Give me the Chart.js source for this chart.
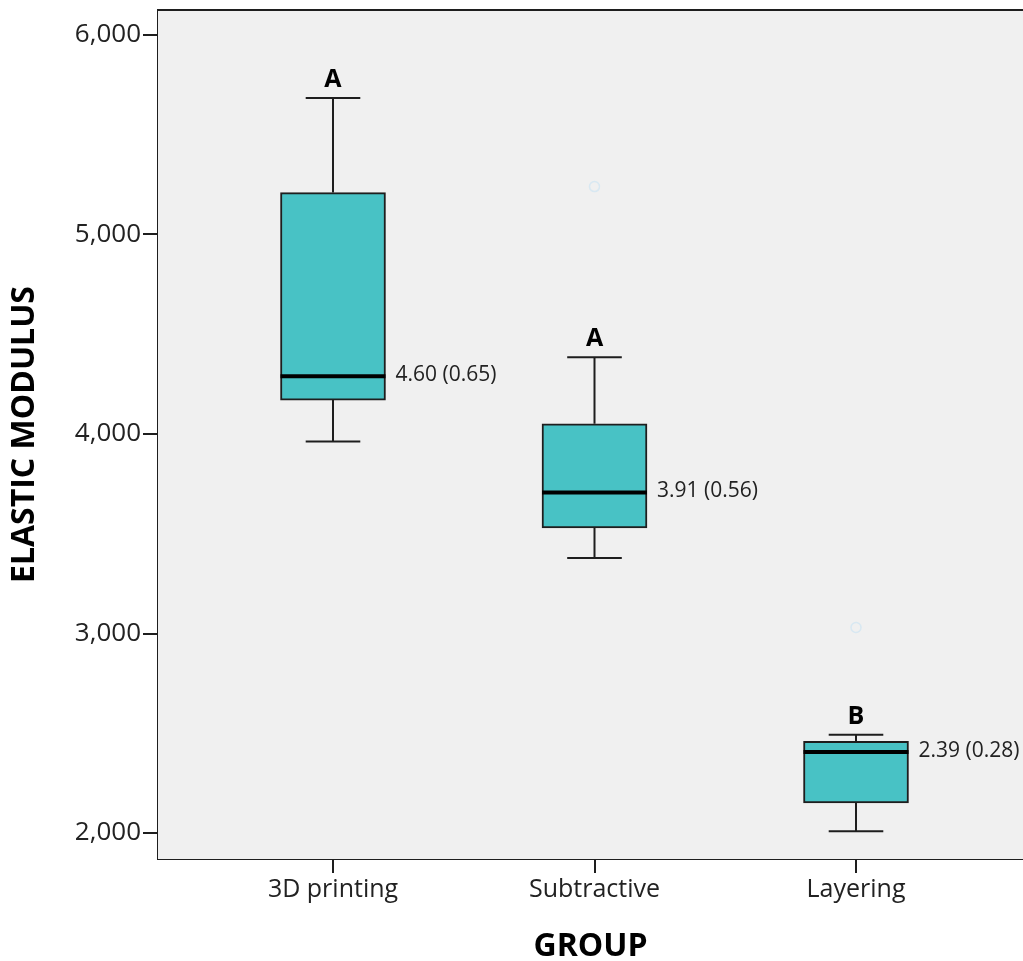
<!DOCTYPE html>
<html>
<head>
<meta charset="utf-8">
<script src="https://cdn.jsdelivr.net/npm/chart.js@4/dist/chart.umd.min.js"></script>
<style>
  html, body { margin: 0; padding: 0; background: #fff; }
  canvas { display: block; }
</style>
</head>
<body>
<canvas id="grafica" width="1023" height="961"></canvas>
<script>
// box plot values (elastic modulus)
const groups = ['3D printing', 'Subtractive', 'Layering'];
const whiskerLow = [3962, 3378, 2009];
const quart1 = [4170, 3529, 2151];
const medians = [4290, 3707, 2406];
const quart3 = [5210, 4051, 2460];
const whiskerHigh = [5684, 4385, 2493];
const letters = ['A', 'A', 'B'];
const meanSd = ['4.60 (0.65)', '3.91 (0.56)', '2.39 (0.28)'];
// faint outlier circles
const outlierGroup = [2, 3];
const outlierValue = [5240, 3030];
const yTicks = [2000, 3000, 4000, 5000, 6000];

const ink = '#1e1e1e';

const boxData = groups.map((g, i) => ({ x: i + 1, y: [quart1[i], quart3[i]] }));
const outData = outlierGroup.map((g, i) => ({ x: g, y: outlierValue[i] }));

// background + top border of plot
const plotFrame = {
  id: 'plotFrame',
  beforeDatasetsDraw(chart) {
    const { ctx, chartArea: a } = chart;
    ctx.save();
    ctx.fillStyle = '#f0f0f0';
    ctx.fillRect(a.left, a.top, a.right - a.left, a.bottom - a.top);
    ctx.restore();
  },
  afterDraw(chart) {
    const { ctx, chartArea: a } = chart;
    ctx.save();
    ctx.strokeStyle = ink;
    ctx.lineWidth = 2;
    ctx.beginPath();
    ctx.moveTo(a.left - 1, a.top);
    ctx.lineTo(a.right, a.top);
    ctx.stroke();
    ctx.restore();
  }
};

// whiskers, medians and labels
const boxExtras = {
  id: 'boxExtras',
  afterDatasetsDraw(chart) {
    const { ctx } = chart;
    const xs = chart.scales.x, ys = chart.scales.y;
    const meta = chart.getDatasetMeta(0);
    ctx.save();
    groups.forEach((g, i) => {
      const bar = meta.data[i];
      const half = bar.width / 2;
      const cx = xs.getPixelForValue(i + 1);
      const yLo = ys.getPixelForValue(whiskerLow[i]);
      const yQ1 = ys.getPixelForValue(quart1[i]);
      const yMed = ys.getPixelForValue(medians[i]);
      const yQ3 = ys.getPixelForValue(quart3[i]);
      const yHi = ys.getPixelForValue(whiskerHigh[i]);
      const cap = half * 0.52;

      ctx.strokeStyle = ink;
      ctx.lineWidth = 2;
      ctx.beginPath();
      ctx.moveTo(cx, yQ3); ctx.lineTo(cx, yHi);
      ctx.moveTo(cx - cap, yHi); ctx.lineTo(cx + cap, yHi);
      ctx.moveTo(cx, yQ1); ctx.lineTo(cx, yLo);
      ctx.moveTo(cx - cap, yLo); ctx.lineTo(cx + cap, yLo);
      ctx.stroke();

      ctx.strokeStyle = '#000';
      ctx.lineWidth = 4;
      ctx.beginPath();
      ctx.moveTo(cx - half, yMed); ctx.lineTo(cx + half, yMed);
      ctx.stroke();

      ctx.fillStyle = '#000';
      ctx.font = 'bold 25px "Open Sans"';
      ctx.textAlign = 'center';
      ctx.textBaseline = 'alphabetic';
      ctx.fillText(letters[i], cx, yHi - 11);

      ctx.fillStyle = '#222';
      ctx.font = '21px "Open Sans"';
      ctx.textAlign = 'left';
      ctx.textBaseline = 'middle';
      ctx.fillText(meanSd[i], cx + half + 10, yMed - 1);
    });
    ctx.restore();
  }
};

const config = {
  data: {
    datasets: [{
      type: 'bar',
      label: 'box',
      data: boxData,
      backgroundColor: '#48c2c5',
      borderColor: ink,
      borderWidth: 2,
      borderSkipped: false,
      barThickness: 105
    }, {
      type: 'scatter',
      label: 'outliers',
      data: outData,
      pointRadius: 5,
      pointBorderWidth: 1.5,
      borderColor: 'rgba(205,228,242,0.7)',
      backgroundColor: 'rgba(0,0,0,0)'
    }]
  },
  options: {
    responsive: false,
    animation: false,
    layout: { autoPadding: false, padding: { top: 10, right: 0, left: 0, bottom: 0 } },
    plugins: {
      legend: { display: false },
      tooltip: { enabled: false }
    },
    scales: {
      x: {
        type: 'linear',
        offset: false,
        min: 0.3308,
        max: 3.6386,
        afterBuildTicks: s => { s.ticks = groups.map((g, i) => ({ value: i + 1 })); },
        afterFit: s => { s.height = 102; s.paddingLeft = 0; s.paddingRight = 0; },
        ticks: {
          autoSkip: false,
          maxRotation: 0,
          padding: 2,
          color: '#222',
          font: { family: 'Open Sans', size: 25 },
          callback: v => groups[v - 1]
        },
        grid: { offset: false, drawOnChartArea: false, drawTicks: true, tickLength: 14, color: ink, lineWidth: 2 },
        border: { display: true, color: ink, width: 2 },
        title: {
          display: true,
          text: 'GROUP',
          color: '#000',
          font: { family: 'Open Sans', size: 32, weight: 'bold', lineHeight: 0.9 },
          padding: { top: 0, bottom: 0 }
        }
      },
      y: {
        min: 1870,
        max: 6125,
        afterBuildTicks: s => { s.ticks = yTicks.map(v => ({ value: v })); },
        afterFit: s => { s.width = 158; s.paddingTop = 0; s.paddingBottom = 0; },
        ticks: {
          padding: 2,
          color: '#222',
          font: { family: 'Open Sans', size: 26 },
          callback: v => v.toLocaleString('en-US')
        },
        grid: { drawOnChartArea: false, drawTicks: true, tickLength: 15, color: ink, lineWidth: 2 },
        border: { display: true, color: ink, width: 2 },
        title: {
          display: true,
          text: 'ELASTIC MODULUS',
          color: '#000',
          font: { family: 'Open Sans', size: 32, weight: 'bold', lineHeight: 1.2 },
          padding: { top: 6, bottom: 0 }
        }
      }
    }
  },
  plugins: [plotFrame, boxExtras]
};

new Chart(document.querySelector('#grafica'), config);
</script>
</body>
</html>
